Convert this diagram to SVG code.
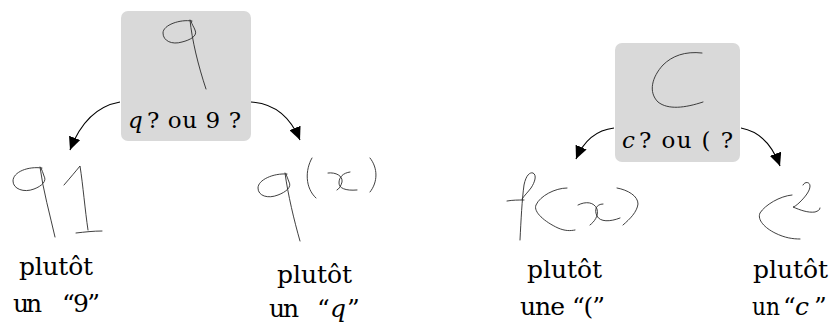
<svg xmlns="http://www.w3.org/2000/svg" width="829" height="322" viewBox="0 0 829 322">
<style>
.box{fill:#d9d9d9;stroke:none}
.hw{fill:none;stroke:#2a2a2a;stroke-width:0.9;stroke-linecap:round;stroke-linejoin:round}
.arr{fill:none;stroke:#000;stroke-width:1.2}
.bt{font-size:23px}
.lt{font-size:25px}
.i{font-style:italic}
</style>
<defs>
<marker id="ah" markerUnits="userSpaceOnUse" markerWidth="14" markerHeight="12" refX="13" refY="6" orient="auto">
<path d="M0,0 L13,6 L0,12 z" fill="#000"/>
</marker>
</defs>
<g font-family="'DejaVu Serif', 'Liberation Serif', serif" fill="#000">
<g id="node-q9">
<rect class="box" x="121" y="11" width="130" height="130" rx="7"/>
<path class="hw" d="M192 21 C180 19,163 25,163 33 C163 41,172 45,182 42 C190 40,198 36,195 30 C194 27,192 25,191 21 M190 20 C192 40,198 65,206 89"/>
<text class="bt i" x="128" y="128">q</text>
<text class="bt" x="147" y="128" textLength="94" lengthAdjust="spacing">? ou 9 ?</text>
</g>
<g id="node-91">
<path class="hw" d="M42 168 C28 166,13 172,13 181 C13 189,24 193,34 189 C42 186,47 181,44 176 C43 173,42 170,41 168 M40 167 C43 190,50 215,55 237"/>
<path class="hw" d="M64 185 C70 178,76 171,80 166 C83 185,85 210,88 230 M76 233 C85 232,93 231,102 231"/>
<text class="lt" x="56" y="275" text-anchor="middle" textLength="74" lengthAdjust="spacing">plutôt</text>
<text class="lt" x="13" y="312" textLength="29" lengthAdjust="spacing">un</text>
<text class="lt" x="62" y="312" textLength="38" lengthAdjust="spacing">“9”</text>
</g>
<g id="node-qx">
<path class="hw" d="M287 174 C273 173,258 180,258 188 C258 196,268 199,278 195 C286 192,292 187,289 182 C288 179,287 177,286 174 M285 173 C288 195,294 220,300 241"/>
<path class="hw" d="M312 158 C305 170,305 188,316 198"/>
<path class="hw" d="M328 173 C336 172,343 176,342 182 C341 186,339 189,337 190 M350 172 C343 173,339 177,339 183 C339 188,345 191,357 190"/>
<path class="hw" d="M370 158 C378 168,378 182,370 192"/>
<text class="lt" x="314.5" y="283" text-anchor="middle" textLength="75" lengthAdjust="spacing">plutôt</text>
<text class="lt" x="269" y="317" textLength="30" lengthAdjust="spacing">un</text>
<text class="lt" x="317" y="317">“</text>
<text class="lt i" x="330" y="317">q</text>
<text class="lt" x="347" y="317">”</text>
</g>
<g id="node-c">
<rect class="box" x="615" y="43" width="125" height="119" rx="7"/>
<path class="hw" d="M702 53 C685 51,672 56,663 65 C652 77,648 92,658 102 C668 110,685 108,703 102"/>
<text class="bt i" x="622" y="148">c</text>
<text class="bt" x="639" y="148" textLength="94" lengthAdjust="spacing">? ou ( ?</text>
</g>
<g id="node-fx">
<path class="hw" d="M520 240 C521 220,522 200,524 185 C526 175,530 172,533 173 C537 175,535 182,531 188 C528 192,524 196,522 199 M507 201 C513 200,518 200,524 200"/>
<path class="hw" d="M567 188 C555 188,540 196,536 205 C533 212,545 222,558 228 C565 231,570 231,575 230"/>
<path class="hw" d="M578 205 C586 201,594 202,597 209 C599 216,594 222,590 225 M603 204 C596 204,594 210,597 216 C600 222,610 222,620 218"/>
<path class="hw" d="M617 188 C628 190,638 196,638 204 C637 212,630 219,623 225"/>
<text class="lt" x="564.5" y="278" text-anchor="middle" textLength="75" lengthAdjust="spacing">plutôt</text>
<text class="lt" x="520" y="315" textLength="45" lengthAdjust="spacing">une</text>
<text class="lt" x="572" y="315" textLength="33" lengthAdjust="spacing">“(”</text>
</g>
<g id="node-c2">
<path class="hw" d="M792 195 C780 196,765 205,760 213 C757 220,765 228,775 233 C785 238,793 239,800 239"/>
<path class="hw" d="M803 185 C805 181,810 182,810 186 C810 191,805 197,800 202 C797 205,794 207,793 207 C800 210,808 213,815 212 C818 211,820 210,820 208"/>
<text class="lt" x="753" y="278" textLength="75" lengthAdjust="spacing">plutôt</text>
<text class="lt" x="752" y="315" textLength="28" lengthAdjust="spacingAndGlyphs">un</text>
<text class="lt" x="783" y="315">“</text>
<text class="lt i" x="795" y="315">c</text>
<text class="lt" x="814" y="315">”</text>
</g>
</g>
<g id="connectors">
<path class="arr" marker-end="url(#ah)" d="M120 102 Q86 108 70 150"/>
<path class="arr" marker-end="url(#ah)" d="M251 102 Q285 104 300 140"/>
<path class="arr" marker-end="url(#ah)" d="M614 128 Q588 131 576 159"/>
<path class="arr" marker-end="url(#ah)" d="M741 128 Q768 133 780 166"/>
</g>
</svg>
